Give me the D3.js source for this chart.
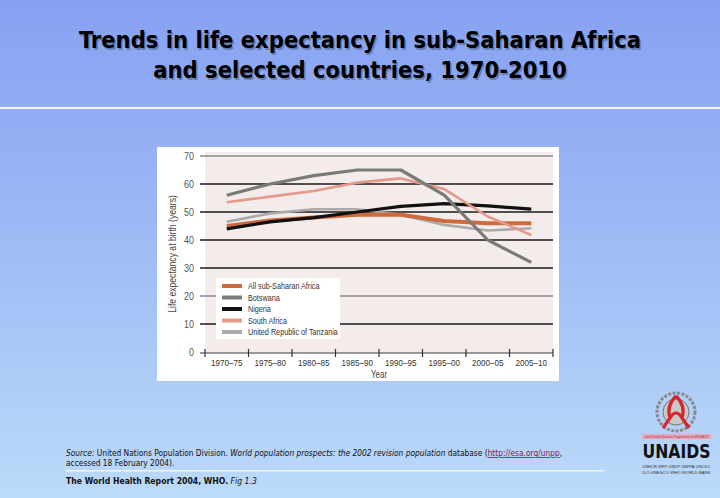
<!DOCTYPE html>
<html><head><meta charset="utf-8">
<script src="https://cdn.jsdelivr.net/npm/d3@7"></script>
<style>html,body{margin:0;padding:0;overflow:hidden}svg{display:block}</style>
</head><body>
<script>
const periods = ["1970–75","1975–80","1980–85","1985–90","1990–95","1995–00","2000–05","2005–10"];
const yTicks = [0,10,20,30,40,50,60,70];
const seriesNames = ["All sub-Saharan Africa","Botswana","Nigeria","South Africa","United Republic of Tanzania"];
const ssaValues = [45, 47, 48, 49, 49, 46.8, 46, 46];
const botswanaValues = [56, 60, 63, 65, 65, 56, 40, 32];
const nigeriaValues = [44, 46.5, 48, 50, 52, 53, 52.2, 51];
const southAfricaValues = [53.5, 55.5, 57.5, 60.5, 62, 58.2, 48.4, 41.8];
const tanzaniaValues = [46.5, 49.5, 51, 51, 49, 45.4, 43.4, 44.2];
const colors = ["#cf6a3c","#7a7a78","#111111","#e49a8a","#aaaaaa"];
const widths = [4, 3.2, 3.2, 2.6, 2.6];

const W=720,H=498;
const svg=d3.select("body").append("svg").attr("width",W).attr("height",H);
const defs=svg.append("defs");
const g=defs.append("linearGradient").attr("id","bg").attr("x1",0).attr("y1",0).attr("x2",0).attr("y2",1);
g.append("stop").attr("offset","0%").attr("stop-color","#87a1f2");
g.append("stop").attr("offset","45%").attr("stop-color","#9cb9f5");
g.append("stop").attr("offset","100%").attr("stop-color","#bcdaf9");
svg.append("rect").attr("width",W).attr("height",H).attr("fill","url(#bg)");

const nf="'Liberation Sans',Arial,sans-serif";
function narrow(parent,x,y,txt,size,anchor,fill,rot,sq){
  const gg=parent.append("g").attr("transform",`translate(${x},${y})`+(rot?` rotate(${rot})`:"")+` scale(${sq||0.8},1)`);
  return gg.append("text").attr("x",0).attr("y",0).attr("text-anchor",anchor||"start")
    .attr("font-family",nf).attr("font-size",size).attr("fill",fill||"#333").text(txt);
}

// title
const tf="Tahoma, 'DejaVu Sans Condensed', 'DejaVu Sans', sans-serif";
[["Trends in life expectancy in sub-Saharan Africa",48],["and selected countries, 1970-2010",78]].forEach(([t,y])=>{
  svg.append("text").attr("x",361.5).attr("y",y+1.5).attr("text-anchor","middle").attr("font-family",tf)
    .attr("font-weight","bold").attr("font-size",23.5).attr("fill","#5a6a99").attr("opacity",0.7).text(t);
  svg.append("text").attr("x",360).attr("y",y).attr("text-anchor","middle").attr("font-family",tf)
    .attr("font-weight","bold").attr("font-size",23.5).attr("fill","#000").text(t);
});
svg.append("rect").attr("x",0).attr("y",107).attr("width",W).attr("height",2).attr("fill","#eef3ff");

// chart panel
svg.append("rect").attr("x",157).attr("y",147).attr("width",402).attr("height",234).attr("fill","#ffffff");
const x=d3.scaleBand().domain(periods).range([205,553]);
const y=d3.scaleLinear().domain([0,70]).range([352,156]);
svg.append("rect").attr("x",205).attr("y",152).attr("width",348).attr("height",200).attr("fill","#f4ecea");

// gridlines
svg.append("g").selectAll("line").data(yTicks.filter(d=>d>0)).join("line")
  .attr("x1",200).attr("x2",553).attr("y1",d=>y(d)).attr("y2",d=>y(d))
  .attr("stroke",d=>(d===70||d===20)?"#8a8a8a":"#1a1a1a").attr("stroke-width",d=>(d===70||d===20)?1.5:1.4);

// y axis labels
const ya=svg.append("g").attr("transform","translate(200,0)")
  .call(d3.axisLeft(y).tickValues(yTicks).tickSize(0).tickPadding(6));
ya.select(".domain").remove();
ya.selectAll("text").attr("font-family",nf).attr("font-size",10).attr("fill","#555")
  .attr("transform","scale(0.9,1)").attr("x",-6/0.9);

// x axis
const xa=svg.append("g").attr("transform","translate(0,353)").call(d3.axisBottom(x).tickSize(0).tickPadding(6));
xa.select(".domain").attr("d","M200,0H553").attr("stroke","#333").attr("stroke-width",1.2);
xa.selectAll(".tick text").attr("font-family",nf).attr("font-size",9.5).attr("fill","#333")
  .attr("transform","scale(0.85,1)");
svg.append("g").selectAll("line").data(periods.map(p=>x(p)).concat([553])).join("line")
  .attr("x1",d=>d).attr("x2",d=>d).attr("y1",349).attr("y2",357).attr("stroke","#333").attr("stroke-width",1.2);

narrow(svg,379,378,"Year",10,"middle","#444");
narrow(svg,176,254,"Life expectancy at birth (years)",10.5,"middle","#444",-90,0.82);

// lines
const allSeries=[ssaValues,botswanaValues,nigeriaValues,southAfricaValues,tanzaniaValues];
const line=d3.line().x((d,i)=>x(periods[i])+x.bandwidth()/2).y(d=>y(d));
const order=[4,0,2,3,1];
order.forEach(k=>{
  svg.append("path").attr("d",line(allSeries[k])).attr("fill","none")
    .attr("stroke",colors[k]).attr("stroke-width",widths[k]).attr("stroke-linejoin","round");
});

// legend
svg.append("rect").attr("x",216).attr("y",278).attr("width",124).attr("height",61).attr("fill","#ffffff");
const lg=svg.append("g");
seriesNames.forEach((n,i)=>{
  const yy=286+i*11.5;
  lg.append("rect").attr("x",222).attr("y",yy-2).attr("width",20).attr("height",4).attr("fill",colors[i]);
  narrow(lg,248,yy+3.3,n,9.4,"start","#333",0,0.77);
});

// footer
const ff="Tahoma, Verdana, 'DejaVu Sans Condensed', sans-serif";
const src=svg.append("text").attr("x",66).attr("y",456).attr("font-family",ff).attr("font-size",8.3).attr("fill","#111");
src.append("tspan").attr("font-style","italic").text("Source:");
src.append("tspan").text("  United Nations Population Division.  ");
src.append("tspan").attr("font-style","italic").text("World population prospects: the 2002 revision population");
src.append("tspan").text(" database (");
src.append("tspan").attr("fill","#8a1a4a").attr("text-decoration","underline").text("http://esa.org/unpp");
src.append("tspan").text(",");
svg.append("text").attr("x",66).attr("y",466).attr("font-family",ff).attr("font-size",8.3).attr("fill","#111").text("accessed 18 February 2004).");
svg.append("rect").attr("x",66).attr("y",470).attr("width",538).attr("height",1.5).attr("fill","#f2f6ff");
const wr=svg.append("text").attr("x",66).attr("y",484).attr("font-family",ff).attr("font-size",8.6).attr("fill","#111");
wr.append("tspan").attr("font-weight","bold").text("The World Health Report 2004, WHO.");
wr.append("tspan").attr("font-style","italic").text("  Fig 1.3");

// UNAIDS logo
const lo=svg.append("g");
lo.append("circle").attr("cx",676).attr("cy",412).attr("r",19).attr("fill","none").attr("stroke","#8a8a8a").attr("stroke-width",3).attr("stroke-dasharray","3 1.5");
lo.append("circle").attr("cx",676).attr("cy",412).attr("r",13).attr("fill","#c9c9c9").attr("stroke","#777").attr("stroke-width",1);
lo.append("path").attr("d","M676,396 C668,404 668,412 670,418 L663,428 M676,396 C684,404 684,412 682,418 L689,428 M670,418 Q676,408 682,418")
  .attr("fill","none").attr("stroke","#d6262b").attr("stroke-width",3.2);
lo.append("rect").attr("x",642).attr("y",434).attr("width",69).attr("height",5).attr("fill","#e7a9b6");
lo.append("text").attr("x",676.5).attr("y",438).attr("text-anchor","middle").attr("font-family",nf).attr("font-size",3.6).attr("textLength",64).attr("lengthAdjust","spacingAndGlyphs").attr("fill","#b03048").text("Joint United Nations Programme on HIV/AIDS");
lo.append("text").attr("x",676.5).attr("y",458).attr("text-anchor","middle").attr("font-family","'DejaVu Sans Condensed','Liberation Sans Narrow',sans-serif")
  .attr("font-weight","bold").attr("font-size",19).attr("textLength",68).attr("lengthAdjust","spacingAndGlyphs").attr("fill","#111").text("UNAIDS");
lo.append("text").attr("x",676.5).attr("y",468).attr("text-anchor","middle").attr("font-family",nf).attr("font-size",4.4).attr("textLength",68).attr("lengthAdjust","spacingAndGlyphs").attr("fill","#333").text("UNHCR·WFP·UNDP·UNFPA·UNODC");
lo.append("text").attr("x",676.5).attr("y",474).attr("text-anchor","middle").attr("font-family",nf).attr("font-size",4.4).attr("textLength",68).attr("lengthAdjust","spacingAndGlyphs").attr("fill","#333").text("ILO·UNESCO·WHO·WORLD BANK");
</script>
</body></html>
